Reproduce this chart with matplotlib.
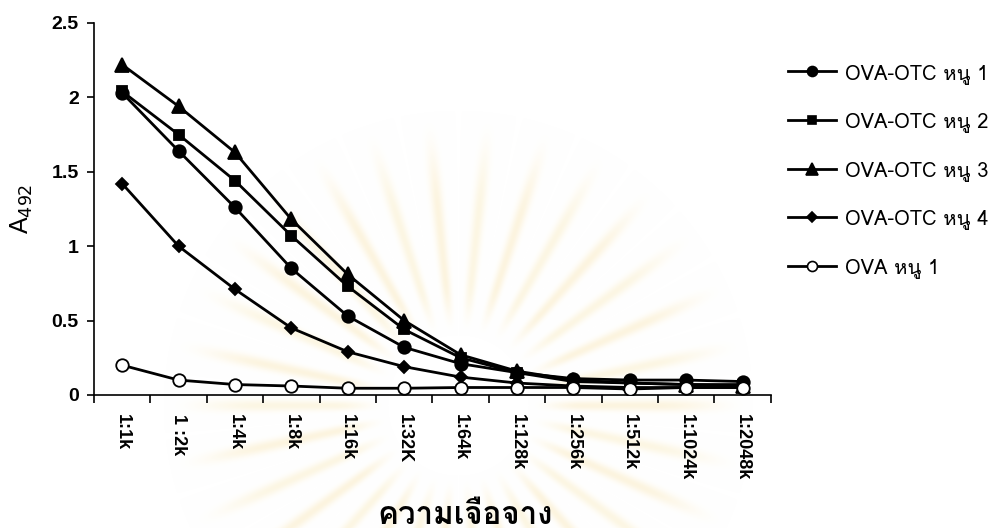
import numpy as np
import matplotlib
matplotlib.use("Agg")
import matplotlib.pyplot as plt
from matplotlib import font_manager
from matplotlib.ft2font import FT2Font
from matplotlib.lines import Line2D

# Dilution series and absorbance readings (A492) per serum sample
dilutions = ["1:1k", "1 :2k", "1:4k", "1:8k", "1:16k", "1:32K", "1:64k",
             "1:128k", "1:256k", "1:512k", "1:1024k", "1:2048k"]

ova_otc_mouse1 = [2.03, 1.64, 1.26, 0.85, 0.53, 0.32, 0.21, 0.15, 0.11, 0.10, 0.10, 0.09]
ova_otc_mouse2 = [2.04, 1.75, 1.44, 1.07, 0.73, 0.44, 0.25, 0.15, 0.09, 0.08, 0.07, 0.07]
ova_otc_mouse3 = [2.22, 1.94, 1.63, 1.18, 0.81, 0.50, 0.27, 0.16, 0.10, 0.08, 0.07, 0.06]
ova_otc_mouse4 = [1.42, 1.00, 0.71, 0.45, 0.29, 0.19, 0.12, 0.08, 0.06, 0.05, 0.05, 0.05]
ova_mouse1 = [0.20, 0.10, 0.07, 0.06, 0.045, 0.045, 0.05, 0.05, 0.05, 0.04, 0.05, 0.05]

series_labels = ["OVA-OTC หนู 1", "OVA-OTC หนู 2", "OVA-OTC หนู 3",
                 "OVA-OTC หนู 4", "OVA หนู 1"]
x_title = "ความเจือจาง"


def thai_family():
    """Return a font family that can render Thai script, if any is installed."""
    seen = set()
    for fe in font_manager.fontManager.ttflist:
        if fe.name in seen:
            continue
        seen.add(fe.name)
        try:
            cmap = FT2Font(fe.fname).get_charmap()
        except Exception:
            continue
        if 0x0E2B in cmap and 0x0E27 in cmap:
            return fe.name
    return None


def smoothstep(a, b, v):
    t = np.clip((v - a) / (b - a), 0, 1)
    return t * t * (3 - 2 * t)


base = "Liberation Sans"
th = thai_family()
plt.rcParams["font.family"] = [base] + ([th] if th else []) + ["DejaVu Sans"]
thai_fam = ([th] if th else []) + [base, "DejaVu Sans"]

W, H = 1005, 528
fig = plt.figure(figsize=(W / 100, H / 100), dpi=100)

# faint sunburst emblem printed behind the chart
bg = fig.add_axes([0, 0, 1, 1], zorder=0)
bg.axis("off")
yy, xx = np.mgrid[0:H, 0:W].astype(float)
cx, cy = 458, 405
dx, dy = xx - cx, cy - yy
r = np.hypot(dx, dy)
th_ang = np.arctan2(dy, dx)
r0, r1 = 85, 285
t = np.clip((r - r0) / (r1 - r0), 0, 1)
n_rays = 30
ang = 0.5 * (1 + np.cos(n_rays * th_ang))
profile = ang ** (1.5 + 6 * t)
env = smoothstep(r0 - 15, r0 + 40, r) * (1 - smoothstep(r1 - 90, r1 + 10, r))
warm = 0.5 * (1 + np.cos(n_rays / 2 * th_ang + 0.7))
inten = np.clip(profile * env, 0, 1) * 0.25
ray_rgb = np.stack([0.96 + 0.0 * warm, 0.87 - 0.04 * warm, 0.58 - 0.08 * warm], -1)
img = 1 - inten[..., None] * (1 - ray_rgb)
bg.imshow(img, extent=(0, W, H, 0), interpolation="bilinear", aspect="auto")
bg.set_xlim(0, W)
bg.set_ylim(H, 0)

ax = fig.add_axes([0.0935, 0.252, 0.6735, 0.7045], zorder=1)
ax.patch.set_alpha(0)

x = list(range(len(dilutions)))
styles = [
    (ova_otc_mouse1, "o", "black", 9),
    (ova_otc_mouse2, "s", "black", 6.5),
    (ova_otc_mouse3, "^", "black", 10),
    (ova_otc_mouse4, "D", "black", 6.5),
    (ova_mouse1, "o", "white", 9),
]
handles = []
for (vals, mk, fc, ms), lab in zip(styles, series_labels):
    ax.plot(x, vals, color="black", lw=2, marker=mk, ms=ms,
            mfc=fc, mec="black", mew=1.3, zorder=3)
    handles.append(Line2D([], [], color="black", lw=2, marker=mk,
                          ms=ms * 0.8, mfc=fc, mec="black", mew=1.2,
                          label=lab))

ax.set_xlim(-0.5, len(dilutions) - 0.5)
ax.set_ylim(0, 2.5)
ax.set_yticks([0, 0.5, 1, 1.5, 2, 2.5])
ax.set_yticklabels(["0", "0.5", "1", "1.5", "2", "2.5"],
                   fontsize=14, fontweight="bold")
ax.set_xticks([i + 0.5 for i in range(-1, len(dilutions))])
ax.set_xticklabels([])
ax.set_xticks(x, minor=True)
ax.set_xticklabels(dilutions, minor=True, rotation=270, fontsize=13,
                   fontweight="bold", va="top", ha="center")
ax.tick_params(axis="x", which="minor", length=0, pad=14)
ax.tick_params(axis="x", which="major", length=6, width=1.2, direction="out")
ax.tick_params(axis="y", length=5, width=1.2, direction="out", pad=6)

for s in ("top", "right"):
    ax.spines[s].set_visible(False)
for s in ("left", "bottom"):
    ax.spines[s].set_linewidth(1.2)

ax.set_ylabel(r"A$_{492}$", fontsize=18, labelpad=12)

fig.text(0.463, 0.008, x_title, ha="center", va="baseline", fontsize=22.5,
         fontweight="bold", family=thai_fam)

fig.legend(handles=handles, loc="upper left",
           bbox_to_anchor=(0.766, 0.914), frameon=False,
           handlelength=2.4, handletextpad=0.45,
           labelspacing=1.42, prop={"family": thai_fam, "size": 14.5})

fig.savefig("out.png", dpi=100, facecolor="white")
